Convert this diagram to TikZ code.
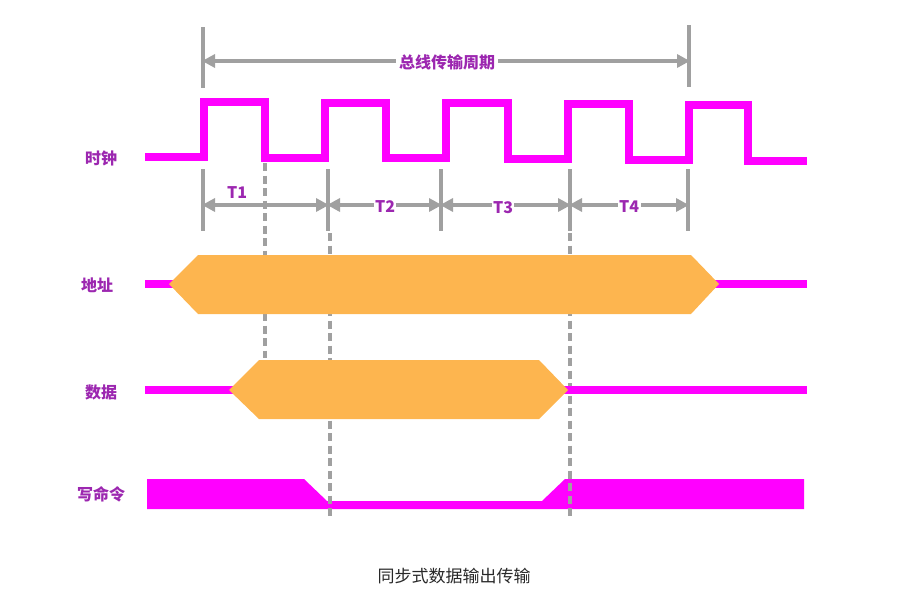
\documentclass[tikz,border=0pt]{standalone}
\usepackage{fontspec}
\newfontfamily\cjk{Noto Sans CJK SC}
\usetikzlibrary{arrows.meta}
\definecolor{mag}{RGB}{255,0,255}
\definecolor{org}{RGB}{253,181,79}
\definecolor{gry}{RGB}{160,160,160}
\definecolor{pur}{RGB}{156,39,176}
\definecolor{cap}{RGB}{40,40,40}
\tikzset{
  sig/.style={draw=mag,line width=8pt,line join=miter},
  bus/.style={fill=org,draw=none},
  tick/.style={draw=gry,line width=4pt},
  dim/.style={draw=gry,line width=4pt,{Triangle[length=13pt,width=13pt]}-{Triangle[length=13pt,width=13pt]},shorten <=-1pt,shorten >=-1pt},
  guide/.style={draw=gry,line width=4pt,dash pattern=on 8pt off 4.5pt},
  lbl/.style={font=\cjk\bfseries\fontsize{16}{16}\selectfont,text=pur,inner sep=1pt},
  tl/.style={font=\cjk\bfseries\fontsize{16}{16}\selectfont,text=pur,fill=white,inner sep=1.5pt},
}
\begin{document}
\begin{tikzpicture}[x=1pt,y=-1pt]
\useasboundingbox (0,0) rectangle (907,608);
% labels
\node[lbl] (lclk) at (101,158) {时钟};
\node[lbl] (ladr) at (97,285) {地址};
\node[lbl] (ldat) at (101,392) {数据};
\node[lbl] (lwr) at (101,494) {写命令};
% top bracket
\coordinate (b1t) at (203,27); \coordinate (b1b) at (203,88);
\coordinate (b2t) at (689,25); \coordinate (b2b) at (689,87);
\draw[tick] (b1t) -- (b1b);
\draw[tick] (b2t) -- (b2b);
\coordinate (ba) at (203,61); \coordinate (bb) at (689,61);
\draw[dim] (ba) -- (bb);
\node[tl,inner sep=3pt] (title) at (447,62) {总线传输周期};
% clock
\draw[sig] (145,157) -- (204,157) -- (204,102) -- (265,102) -- (265,157.5) -- (325,157.5) -- (325,102.5) -- (386,102.5) -- (386,158) -- (446,158) -- (446,103) -- (508,103) -- (508,159) -- (568,159) -- (568,104) -- (629,104) -- (629,159.5) -- (689,159.5) -- (689,105) -- (748,105) -- (748,160.5) -- (807,160.5);
% interval markers
\foreach \n/\x in {m0/203,m1/328,m2/441,m3/570,m4/688}{
  \coordinate (\n t) at (\x,169); \coordinate (\n b) at (\x,231);
  \coordinate (\n) at (\x,205);
  \draw[tick] (\n t) -- (\n b);
}
\draw[dim] (m0) -- (m1);
\draw[dim] (m1) -- (m2);
\draw[dim] (m2) -- (m3);
\draw[dim] (m3) -- (m4);
\node[lbl] (t1) at (237,193) {T1};
\node[tl] (t2) at (385,207) {T2};
\node[tl] (t3) at (503,208) {T3};
\node[tl] (t4) at (629,207) {T4};
% write command
\fill[mag] (147,479) -- (304,479) -- (327,501) -- (542,501) -- (565,479) -- (804,479) -- (804,509) -- (147,509) -- cycle;
% dashed guides
\coordinate (g1a) at (265,163); \coordinate (g1b) at (265,358);
\coordinate (g2a) at (330,233); \coordinate (g2b) at (330,519);
\coordinate (g3a) at (570,233); \coordinate (g3b) at (570,518);
\draw[guide] (g1a) -- (g1b);
\draw[guide] (g2a) -- (g2b);
\draw[guide] (g3a) -- (g3b);
% address bus
\draw[draw=mag,line width=8pt] (145,284) -- (175,284);
\draw[draw=mag,line width=8pt] (714,284) -- (807,284);
\fill[bus] (169,284) -- (198,255) -- (691,255) -- (719,284) -- (691,314) -- (198,314) -- cycle;
% data bus
\draw[draw=mag,line width=8pt] (145,390) -- (234,390);
\draw[draw=mag,line width=8pt] (564,390) -- (807,390);
\fill[bus] (229,390) -- (259,360) -- (539,360) -- (568,390) -- (539,419) -- (259,419) -- cycle;
% caption
\node[font=\cjk\fontsize{17}{17}\selectfont,text=cap] (caption) at (454,576) {同步式数据输出传输};
\end{tikzpicture}
\end{document}
